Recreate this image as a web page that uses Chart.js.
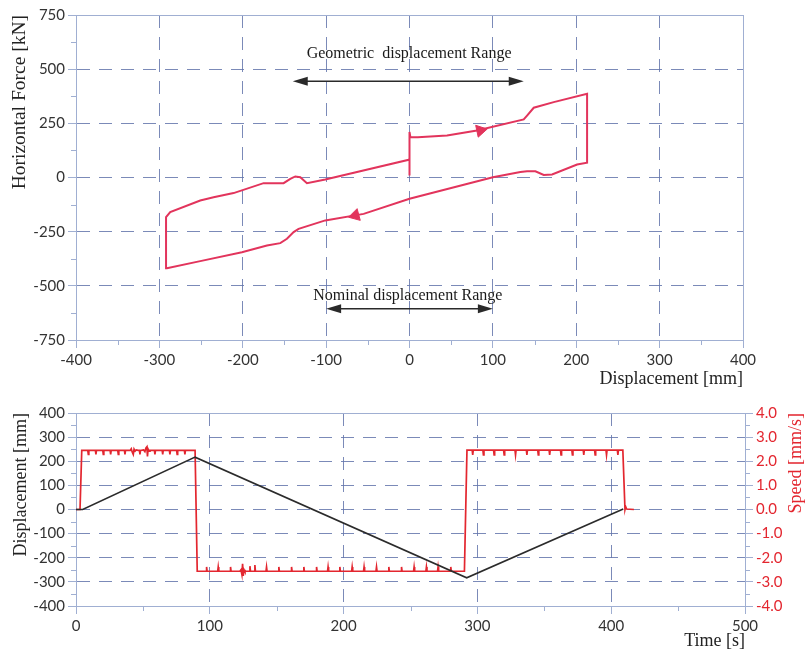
<!DOCTYPE html>
<html>
<head>
<meta charset="utf-8">
<script src="https://cdn.jsdelivr.net/npm/chart.js@4.4.0/dist/chart.umd.min.js"></script>
<style>
  body { margin: 0; background: #fff; }
  canvas { position: absolute; left: 0; }
  #top { top: 0; }
  #bottom { top: 390px; }
</style>
</head>
<body>
<canvas id="top" width="807" height="390"></canvas>
<canvas id="bottom" width="807" height="262"></canvas>
<script>
// ---- top chart: force / displacement loop ----
const loopDisp  = [0, 0, 1, 10, 45, 81, 137, 141, 149, 173, 213, 213, 201, 171, 161, 151, 141, 133, 100, 0,
                   -55, -101, -133, -139, -147, -155, -171, -201, -251, -291, -292, -287, -251, -235, -211,
                   -175, -151, -143, -137, -131, -123, -101, -1, 0];
const loopForce = [9, 210, 187, 186, 194, 217, 268, 286, 322, 348, 386, 68, 60, 14, 12, 29, 29, 25, 1, -98,
                   -168, -198, -237, -252, -283, -303, -314, -345, -386, -419, -183, -160, -106, -91, -72,
                   -26, -26, -6, 5, 1, -26, -9, 82, 86];
const arrowDisp = [85, -65];
const arrowForce = [217, -175];
const arrowAngle = [78, 255];

const geoRange = [-140, 137];
const geoArrowForce = 444;
const geoLabelForce = 569;
const geoLabel = 'Geometric  displacement Range';
const nomRange = [-100, 100];
const nomArrowForce = -606;
const nomLabelForce = -546;
const nomLabel = 'Nominal displacement Range';

// ---- bottom chart: time histories ----
const dispTime  = [0, 5, 89, 292, 409];
const dispValue = [0, 0, 217, -283, 2];

const speedTime = [
  0, 3, 4.3,
  8.8, 9.2, 9.6, 14.5, 14.9, 15.3, 20.0, 20.4, 20.8, 25.5, 25.9, 26.3, 31.2, 31.6, 32.0, 36.2, 36.6, 37.0,
  40.5, 41.3, 42.0, 42.8, 43.4, 44.2, 45.0, 46.5, 47.4, 47.8, 48.2, 50.5, 51.5, 52.3, 53.0, 53.4, 53.9, 54.6, 55.3,
  58.6, 59.0, 59.4, 64.4, 64.8, 65.2, 69.8, 70.2, 70.6, 75.2, 75.6, 76.0, 81.0, 81.4, 81.8,
  89, 90.6,
  97.2, 97.6, 98.0, 105.9, 106.3, 106.7, 115.1, 115.5, 115.9,
  122.5, 123.3, 124.0, 124.5, 125.0, 125.6, 126.3, 127.0,
  129.6, 130.0, 130.4, 133.3, 133.7, 134.1,
  142.0, 142.4, 142.8, 151.2, 151.6, 152.0, 160.7, 161.1, 161.5, 169.9, 170.3, 170.7, 179.4, 179.8, 180.2,
  188.0, 188.4, 188.8, 196.8, 197.2, 197.6, 206.0, 206.4, 206.8, 214.9, 215.3, 215.7, 224.2, 224.6, 225.0,
  233.4, 233.8, 234.2, 242.9, 243.3, 243.7, 252.3, 252.7, 253.1, 261.5, 261.9, 262.3, 270.2, 270.6, 271.0,
  279.7, 280.1, 280.5,
  290.3, 292.2,
  296.1, 296.5, 296.9, 304.1, 304.5, 304.9, 312.1, 312.5, 312.9, 319.6, 320.0, 320.4, 328.1, 328.5, 328.9,
  336.6, 337.0, 337.4, 345.1, 345.5, 345.9, 353.6, 354.0, 354.4, 362.1, 362.5, 362.9, 370.6, 371.0, 371.4,
  379.1, 379.5, 379.9, 387.6, 388.0, 388.4, 396.1, 396.5, 396.9, 404.6, 405.0, 405.4,
  408.7, 410.3, 410.8, 411.5, 417
];
const speedValue = [
  0, 0, 2.45,
  2.45, 2.28, 2.45, 2.45, 2.28, 2.45, 2.45, 2.28, 2.45, 2.45, 2.28, 2.45, 2.45, 2.28, 2.45, 2.45, 2.28, 2.45,
  2.45, 2.52, 2.38, 2.28, 2.5, 2.42, 2.47, 2.45, 2.45, 2.28, 2.45, 2.47, 2.4, 2.55, 2.6, 2.2, 2.5, 2.42, 2.45,
  2.45, 2.28, 2.45, 2.45, 2.28, 2.45, 2.45, 2.28, 2.45, 2.45, 2.28, 2.45, 2.45, 2.28, 2.45,
  2.45, -2.56,
  -2.56, -2.38, -2.56, -2.56, -2.38, -2.56, -2.56, -2.38, -2.56,
  -2.56, -2.5, -2.7, -2.25, -2.75, -2.5, -2.58, -2.56,
  -2.56, -2.35, -2.56, -2.56, -2.3, -2.56,
  -2.56, -2.38, -2.56, -2.56, -2.38, -2.56, -2.56, -2.38, -2.56, -2.56, -2.38, -2.56, -2.56, -2.38, -2.56,
  -2.56, -2.38, -2.56, -2.56, -2.38, -2.56, -2.56, -2.38, -2.56, -2.56, -2.38, -2.56, -2.56, -2.38, -2.56,
  -2.56, -2.38, -2.56, -2.56, -2.38, -2.56, -2.56, -2.38, -2.56, -2.56, -2.38, -2.56, -2.56, -2.38, -2.56,
  -2.56, -2.38, -2.56,
  -2.56, 2.46,
  2.46, 2.26, 2.46, 2.46, 2.26, 2.46, 2.46, 2.26, 2.46, 2.46, 2.26, 2.46, 2.46, 2.26, 2.46,
  2.46, 2.26, 2.46, 2.46, 2.26, 2.46, 2.46, 2.26, 2.46, 2.46, 2.26, 2.46, 2.46, 2.26, 2.46,
  2.46, 2.26, 2.46, 2.46, 2.26, 2.46, 2.46, 2.26, 2.46, 2.46, 2.26, 2.46,
  2.46, 0, 0.12, 0.02, 0
];

const loopRed = '#e2345c';
const speedRed = '#e3262f';
const frameColor = '#a0afd2';
const gridColor = 'rgba(100,118,172,0.85)';
const tickFont = { family: 'Lato', size: 15 };
const titleFont = { family: 'Liberation Serif', size: 18 };

function pts(xs, ys) { return xs.map((x, i) => ({ x: x, y: ys[i] })); }

function gridFor(min, max) {
  return ctx => (ctx.tick && (ctx.tick.value === min || ctx.tick.value === max)) ? 'rgba(0,0,0,0)' : gridColor;
}

function axis(min, max, step, extra) {
  return Object.assign({
    type: 'linear', min: min, max: max,
    ticks: { stepSize: step, font: tickFont, color: '#333', padding: 3 },
    grid: { color: gridFor(min, max), tickColor: frameColor, tickLength: 8, tickBorderDash: [] },
    border: { color: frameColor, dash: [13, 9] }
  }, extra);
}

// plot box + half-step minor ticks
const framePlugin = {
  id: 'frame',
  beforeDatasetsDraw(chart, args, opts) {
    const { ctx, chartArea: a } = chart;
    ctx.save();
    ctx.strokeStyle = frameColor;
    ctx.lineWidth = 1;
    ctx.strokeRect(a.left + 0.5, a.top + 0.5, a.right - a.left, a.bottom - a.top);
    (opts.minor || []).forEach(m => {
      const s = chart.scales[m.id];
      ctx.beginPath();
      for (let v = s.min + m.step / 2; v < s.max; v += m.step) {
        const p = Math.round(s.getPixelForValue(v)) + 0.5;
        if (m.id === 'x') { ctx.moveTo(p, s.top); ctx.lineTo(p, s.top + 5); }
        else if (s.position === 'left') { ctx.moveTo(s.right, p); ctx.lineTo(s.right - 5, p); }
        else { ctx.moveTo(s.left, p); ctx.lineTo(s.left + 5, p); }
      }
      ctx.stroke();
    });
    ctx.restore();
  }
};

function doubleArrow(ctx, x1, x2, y) {
  ctx.beginPath(); ctx.moveTo(x1 + 8, y); ctx.lineTo(x2 - 8, y); ctx.stroke();
  ctx.beginPath(); ctx.moveTo(x1, y); ctx.lineTo(x1 + 15, y - 4.5); ctx.lineTo(x1 + 15, y + 4.5); ctx.closePath(); ctx.fill();
  ctx.beginPath(); ctx.moveTo(x2, y); ctx.lineTo(x2 - 15, y - 4.5); ctx.lineTo(x2 - 15, y + 4.5); ctx.closePath(); ctx.fill();
}

const rangePlugin = {
  id: 'ranges',
  afterDatasetsDraw(chart) {
    const { ctx, scales: { x, y } } = chart;
    ctx.save();
    ctx.strokeStyle = '#2a2a2a'; ctx.fillStyle = '#2a2a2a'; ctx.lineWidth = 1.5;
    doubleArrow(ctx, x.getPixelForValue(geoRange[0]), x.getPixelForValue(geoRange[1]), y.getPixelForValue(geoArrowForce));
    doubleArrow(ctx, x.getPixelForValue(nomRange[0]), x.getPixelForValue(nomRange[1]), y.getPixelForValue(nomArrowForce));
    ctx.fillStyle = '#1a1a1a';
    ctx.font = '16px "Liberation Serif"';
    ctx.textAlign = 'center'; ctx.textBaseline = 'middle';
    ctx.fillText(geoLabel, x.getPixelForValue((geoRange[0] + geoRange[1]) / 2 + 1), y.getPixelForValue(geoLabelForce));
    ctx.fillText(nomLabel, x.getPixelForValue((nomRange[0] + nomRange[1]) / 2 - 2), y.getPixelForValue(nomLabelForce));
    ctx.restore();
  }
};

// right axis title reads bottom-to-top, like the left one
const speedTitlePlugin = {
  id: 'speedTitle',
  afterDraw(chart) {
    const { ctx, chartArea: a } = chart;
    ctx.save();
    ctx.translate(796, a.top);
    ctx.rotate(-Math.PI / 2);
    ctx.font = '18px "Liberation Serif"';
    ctx.fillStyle = speedRed;
    ctx.textAlign = 'right'; ctx.textBaseline = 'middle';
    ctx.fillText('Speed [mm/s]', 0, 0);
    ctx.restore();
  }
};

new Chart(document.getElementById('top'), {
  type: 'line',
  data: {
    datasets: [
      { data: pts(loopDisp, loopForce), borderColor: loopRed, borderWidth: 2, pointRadius: 0, tension: 0 },
      { data: pts(arrowDisp, arrowForce), showLine: false, pointStyle: 'triangle', pointRadius: 7,
        pointRotation: arrowAngle, backgroundColor: loopRed, borderColor: loopRed }
    ]
  },
  options: {
    responsive: false, animation: false,
    layout: { padding: { top: 15, right: 64, left: 0, bottom: 0 } },
    plugins: { legend: { display: false }, tooltip: { enabled: false },
      frame: { minor: [{ id: 'x', step: 100 }, { id: 'y', step: 250 }] } },
    scales: {
      x: axis(-400, 400, 100, {
        title: { display: true, text: 'Displacement [mm]', align: 'end', font: titleFont, color: '#222', padding: 0 },
        afterFit: s => { s.height = 50; }
      }),
      y: axis(-750, 750, 250, {
        title: { display: true, text: 'Horizontal Force [kN]', align: 'end', font: { family: 'Liberation Serif', size: 19.5 }, color: '#222', padding: { top: 8, bottom: 0 } },
        afterFit: s => { s.width = 76; }
      })
    }
  },
  plugins: [framePlugin, rangePlugin]
});

new Chart(document.getElementById('bottom'), {
  type: 'line',
  data: {
    datasets: [
      { data: pts(dispTime, dispValue), yAxisID: 'y', borderColor: '#2b2b2b', borderWidth: 1.6, pointRadius: 0, tension: 0 },
      { data: pts(speedTime, speedValue), yAxisID: 'y1', borderColor: speedRed, borderWidth: 1.7, pointRadius: 0, tension: 0 }
    ]
  },
  options: {
    responsive: false, animation: false,
    layout: { padding: { top: 23, right: 0, left: 0, bottom: 0 } },
    plugins: { legend: { display: false }, tooltip: { enabled: false },
      frame: { minor: [{ id: 'x', step: 100 }, { id: 'y', step: 100 }, { id: 'y1', step: 1 }] } },
    scales: {
      x: axis(0, 500, 100, {
        title: { display: true, text: 'Time [s]', align: 'end', font: titleFont, color: '#222', padding: 0 },
        afterFit: s => { s.height = 46; }
      }),
      y: axis(-400, 400, 100, {
        position: 'left',
        title: { display: true, text: 'Displacement [mm]', align: 'end', font: titleFont, color: '#222', padding: { top: 10, bottom: 0 } },
        afterFit: s => { s.width = 76; }
      }),
      y1: axis(-4, 4, 1, {
        position: 'right',
        ticks: { stepSize: 1, font: tickFont, color: speedRed, padding: 3, callback: v => v.toFixed(1) },
        grid: { drawOnChartArea: false, tickColor: frameColor, tickLength: 8 },
        afterFit: s => { s.width = 62; }
      })
    }
  },
  plugins: [framePlugin, speedTitlePlugin]
});
</script>
</body>
</html>
